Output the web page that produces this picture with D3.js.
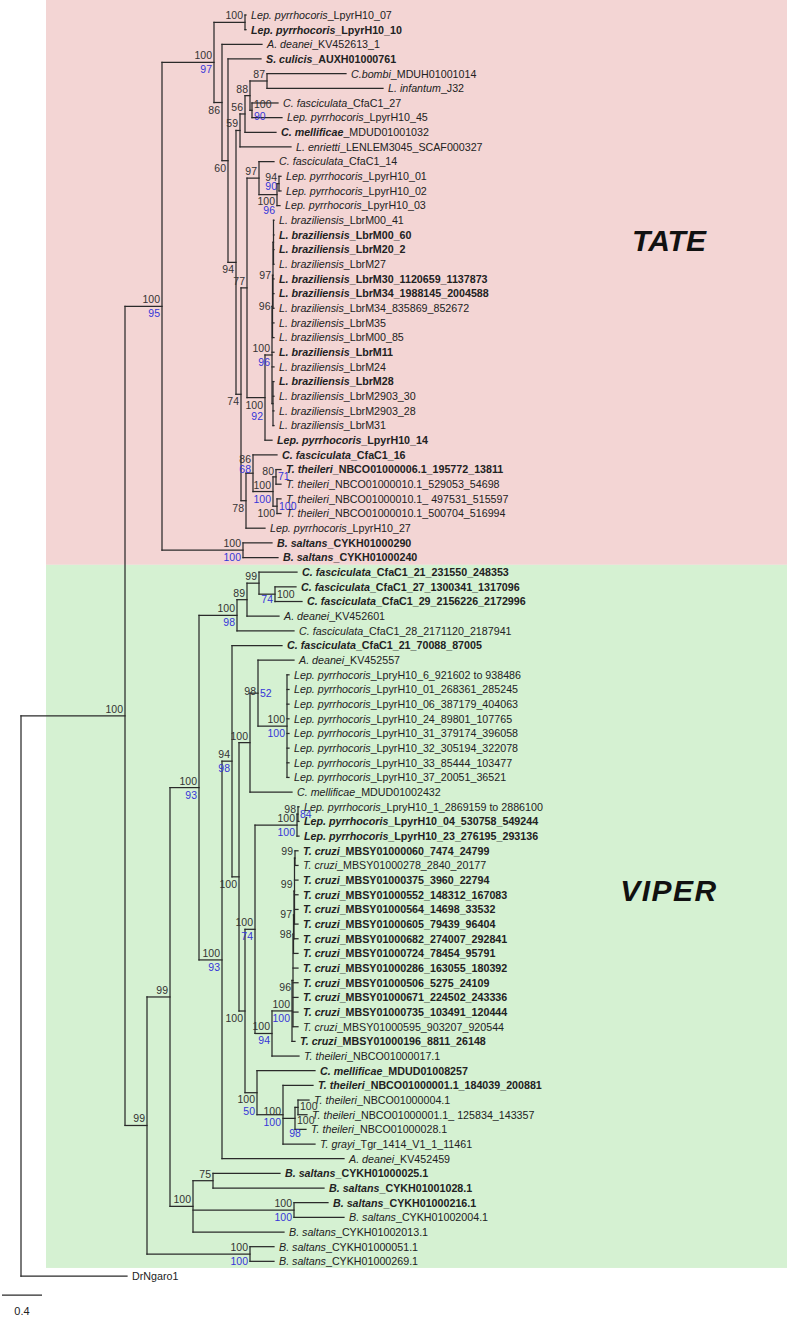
<!DOCTYPE html>
<html><head><meta charset="utf-8">
<script src="https://cdn.jsdelivr.net/npm/d3@7"></script>
<style>body{margin:0;background:#fff}svg{display:block}</style>
</head><body><svg id="c" width="787" height="1317"></svg>
<script>
// ---------------- DATA ----------------
const taxa = [
"Lep. pyrrhocoris_LpyrH10_07","Lep. pyrrhocoris_LpyrH10_10","A. deanei_KV452613_1","S. culicis_AUXH01000761",
"C.bombi_MDUH01001014","L. infantum_J32","C. fasciculata_CfaC1_27","Lep. pyrrhocoris_LpyrH10_45",
"C. mellificae_MDUD01001032","L. enrietti_LENLEM3045_SCAF000327","C. fasciculata_CfaC1_14","Lep. pyrrhocoris_LpyrH10_01",
"Lep. pyrrhocoris_LpyrH10_02","Lep. pyrrhocoris_LpyrH10_03","L. braziliensis_LbrM00_41","L. braziliensis_LbrM00_60",
"L. braziliensis_LbrM20_2","L. braziliensis_LbrM27","L. braziliensis_LbrM30_1120659_1137873","L. braziliensis_LbrM34_1988145_2004588",
"L. braziliensis_LbrM34_835869_852672","L. braziliensis_LbrM35","L. braziliensis_LbrM00_85","L. braziliensis_LbrM11",
"L. braziliensis_LbrM24","L. braziliensis_LbrM28","L. braziliensis_LbrM2903_30","L. braziliensis_LbrM2903_28",
"L. braziliensis_LbrM31","Lep. pyrrhocoris_LpyrH10_14","C. fasciculata_CfaC1_16","T. theileri_NBCO01000006.1_195772_13811",
"T. theileri_NBCO01000010.1_529053_54698","T. theileri_NBCO01000010.1_ 497531_515597","T. theileri_NBCO01000010.1_500704_516994","Lep. pyrrhocoris_LpyrH10_27",
"B. saltans_CYKH01000290","B. saltans_CYKH01000240",
"C. fasciculata_CfaC1_21_231550_248353","C. fasciculata_CfaC1_27_1300341_1317096","C. fasciculata_CfaC1_29_2156226_2172996","A. deanei_KV452601",
"C. fasciculata_CfaC1_28_2171120_2187941","C. fasciculata_CfaC1_21_70088_87005","A. deanei_KV452557","Lep. pyrrhocoris_LpryH10_6_921602 to 938486",
"Lep. pyrrhocoris_LpyrH10_01_268361_285245","Lep. pyrrhocoris_LpyrH10_06_387179_404063","Lep. pyrrhocoris_LpyrH10_24_89801_107765","Lep. pyrrhocoris_LpyrH10_31_379174_396058",
"Lep. pyrrhocoris_LpyrH10_32_305194_322078","Lep. pyrrhocoris_LpyrH10_33_85444_103477","Lep. pyrrhocoris_LpyrH10_37_20051_36521","C. mellificae_MDUD01002432",
"Lep. pyrrhocoris_LpryH10_1_2869159 to 2886100","Lep. pyrrhocoris_LpyrH10_04_530758_549244","Lep. pyrrhocoris_LpyrH10_23_276195_293136","T. cruzi_MBSY01000060_7474_24799",
"T. cruzi_MBSY01000278_2840_20177","T. cruzi_MBSY01000375_3960_22794","T. cruzi_MBSY01000552_148312_167083","T. cruzi_MBSY01000564_14698_33532",
"T. cruzi_MBSY01000605_79439_96404","T. cruzi_MBSY01000682_274007_292841","T. cruzi_MBSY01000724_78454_95791","T. cruzi_MBSY01000286_163055_180392",
"T. cruzi_MBSY01000506_5275_24109","T. cruzi_MBSY01000671_224502_243336","T. cruzi_MBSY01000735_103491_120444","T. cruzi_MBSY01000595_903207_920544",
"T. cruzi_MBSY01000196_8811_26148","T. theileri_NBCO01000017.1","C. mellificae_MDUD01008257","T. theileri_NBCO01000001.1_184039_200881",
"T. theileri_NBCO01000004.1","T. theileri_NBCO01000001.1_ 125834_143357","T. theileri_NBCO01000028.1","T. grayi_Tgr_1414_V1_1_11461",
"A. deanei_KV452459","B. saltans_CYKH01000025.1","B. saltans_CYKH01001028.1","B. saltans_CYKH01000216.1",
"B. saltans_CYKH01002004.1","B. saltans_CYKH01002013.1","B. saltans_CYKH01000051.1","B. saltans_CYKH01000269.1",
"DrNgaro1"
];
// 1-based taxon numbers drawn in bold
const boldTaxa = [2,4,16,17,19,20,24,26,30,31,32,37,38,39,40,41,44,56,57,58,60,61,62,63,64,65,66,67,68,69,71,73,74,80,81,82];
const boldSpeciesOnly = [9];

// Newick pieces (branch lengths in substitutions/site, node labels = bootstrap / second support)
const cladeLeishLike = "((((t5:0.79,t6:1.16)87:0.17,(t7:0.26,t8:0.30)'100/90':0.02)88:0.05,t9:0.31)56:0.05,t10:0.51)59:0.04";
const cladeLbr = "(((((t15:0.005,t16:0.005,t17:0.005,t18:0.005):0.005,t19:0.01,t20:0.01,t21:0.01)97:0.005,t22:0.015,t23:0.015)96:0.005,t24:0.02,t25:0.02,(t26:0.01,t27:0.01,t28:0.01,t29:0.01):0.01)'100/96':0.07,t30:0.07)'100/92':0.18";
const cladeLep = "(t11:0.15,((t12:0.02,t13:0.02)'94/90':0.02,t14:0.03)'100/96':0.18)97:0.12";
const cladeTth = "((t31:0.24,((t32:0.05,t33:0.05)'80/71':0.03,(t34:0.04,t35:0.04)'100/100':0.04)'100/100':0.20)'86/68':0.07,t36:0.19)78:0.05";
const cladeTATE = "(((t1:0.01,t2:0.01)100:0.31,(t3:0.40,(t4:0.33,(" + cladeLeishLike + ",((" + cladeLep + "," + cladeLbr + ")77:0.06," + cladeTth + ")74:0.05)94:0.08)60:0.06)86:0.08)'100/97':0.52,(t37:0.29,t38:0.35)'100/100':0.81)'100/95':0.37";

const cladeCfa = "(((t39:0.38,(t40:0.21,t41:0.27)'100/74':0.16)99:0.12,t42:0.32)89:0.10,t43:0.57)'100/98':0.38";
const cladeLepV = "((t45:0.36,(t46:0.02,t47:0.02,t48:0.02,t49:0.02,t50:0.02,t51:0.02,t52:0.02,t53:0.02)'100/100':0.29)'98/52':0.08,t54:0.42)100:0.11";
const cladeTcr = "((((((t58:0.03,t59:0.03)99:0.005,t60:0.035,t61:0.035,t62:0.035,t63:0.035)99:0.005,t64:0.04)97:0.005,t65:0.045)98:0.005,t66:0.05,t67:0.05,t68:0.05,t69:0.05,t70:0.05)96:0.01,t71:0.03)'100/100':0.20";
const cladeTryp = "((((t55:0.01,t56:0.01)'98/84':0.01,t57:0.02)'100/100':0.42,(" + cladeTcr + ",t72:0.27)'100/94':0.17)'100/74':0.10,(t73:0.58,(t74:0.30,((t75:0.11,t76:0.09)100:0.03,t77:0.11)'100/98':0.12,t78:0.32)'100/100':0.26)'100/50':0.12)100:0.06";
const cladeBsa = "((t80:0.67,t81:1.11)75:0.20,(t82:0.34,t83:0.50)'100/100':1.01,t84:0.91)100:0.23";
const cladeVIPER = "(((" + cladeCfa + ",((t44:0.50,(" + cladeLepV + "," + cladeTryp + ")100:0.07)'94/98':0.10,t79:1.22)'100/93':0.23)'100/93':0.29," + cladeBsa + ")99:0.23,(t85:0.24,t86:0.24)'100/100':1.03)99:0.22";

const treeNewick = "((" + cladeTATE + "," + cladeVIPER + ")100:1.04,t87:1.06);";

const groups = [{name:"TATE", first:1, last:38, color:"#f3d5d4"}, {name:"VIPER", first:39, last:86, color:"#d5f1d2"}];
const scaleBarValue = 0.4;

// ---------------- LAYOUT CONFIG (support-label placement; key = first-last taxon of clade) ----------------
// [side, baseline offset]: side l = left of node, r = right of node, m = centred on node
const labelPlacement = {
  "7-8":   {top:["r",-2],   bot:["r",10]},
  "12-13": {top:["l",-3],   bot:["l",6]},
  "12-14": {top:["l",10],   bot:["l",19]},
  "15-21": {top:["l",3.5]},
  "15-23": {top:["l",3.5]},
  "15-30": {top:["l",11],   bot:["l",22]},
  "31-35": {top:["l",-10],  bot:["l",0]},
  "32-33": {top:["l",-2],   bot:["r",3.5]},
  "34-35": {top:["l",10.5], bot:["r",3.5]},
  "40-41": {top:["r",3.5],  bot:["l",9]},
  "45-53": {top:["l",2],    bot:["r",4]},
  "55-56": {top:["l",-1],   bot:["r",4]},
  "58-64": {top:["l",3.5]},
  "58-65": {top:["l",3.5]},
  "58-70": {top:["l",11]},
  "73-78": {top:["l",10.5], bot:["l",22]},
  "74-78": {top:["l",0],    bot:["l",11]},
  "75-76": {top:["r",3]},
  "75-77": {top:["r",5.5],  bot:["m",19]},
  "80-84": {top:["l",-3]},
  "39-86": {top:["l",-3]}
};

// ---------------- PARSER ----------------
function parseNewick(s){
  let i=0;
  function node(){
    const n={children:[]};
    if(s[i]==='('){ i++; n.children.push(node()); while(s[i]===','){i++; n.children.push(node());} i++; }
    let lab='';
    if(s[i]==="'"){ i++; while(s[i]!=="'") lab+=s[i++]; i++; }
    else { while(i<s.length && !",():;".includes(s[i])) lab+=s[i++]; }
    n.label=lab;
    if(s[i]===':'){ i++; let num=''; while(i<s.length && !",();".includes(s[i])) num+=s[i++]; n.length=+num; } else n.length=0;
    if(!n.children.length) delete n.children;
    return n;
  }
  return node();
}

// ---------------- LAYOUT ----------------
const W=787,H=1317;
const svg=d3.select("#c");
const root=d3.hierarchy(parseNewick(treeNewick), d=>d.children);
root.eachBefore(d=>{ d.dist = (d.parent? d.parent.dist : 0) + (d.parent? d.data.length : 0); });
const maxDist=d3.max(root.leaves(), d=>d.dist);
const x=d3.scaleLinear().domain([0,maxDist]).range([21,21+maxDist*100]);
const y=d3.scaleLinear().domain([0,taxa.length-1]).range([15,1276]);
const step=y(1)-y(0);
root.leaves().forEach(d=>{ d.idx=+d.data.label.slice(1)-1; d.y=y(d.idx); });
root.eachAfter(d=>{ if(d.children){ d.y=(d.children[0].y+d.children[d.children.length-1].y)/2; } });

// backgrounds
const xBgLeft=46;
groups.forEach((g,gi)=>{
  const top = gi===0 ? 0 : y(g.first-1)-step/2;
  const bottom = gi===0 ? y(g.last-1)+step/2 : y(g.last-1)+step*0.45;
  svg.append("rect").attr("x",xBgLeft).attr("y",top).attr("width",W-xBgLeft).attr("height",bottom-top).attr("fill",g.color);
});
const font="Liberation Sans, Arial, sans-serif";
svg.append("text").attr("x",669).attr("y",251).attr("text-anchor","middle")
  .attr("font-family",font).attr("font-size",30).attr("font-weight","bold").attr("font-style","italic").attr("fill","#111").text(groups[0].name);
svg.append("text").attr("x",669).attr("y",901).attr("text-anchor","middle")
  .attr("font-family",font).attr("font-size",30).attr("font-weight","bold").attr("font-style","italic").attr("fill","#111").attr("letter-spacing",1.5).text(groups[1].name);

// branches
const g=svg.append("g").attr("fill","none").attr("stroke","#2a2a2a").attr("stroke-width",1.25).attr("stroke-linecap","square");
root.descendants().forEach(d=>{
  if(d.parent){
    g.append("path").attr("d",`M${x(d.parent.dist)},${d.y}H${x(d.dist)}`);
  }
  if(d.children){
    g.append("path").attr("d",`M${x(d.dist)},${d.children[0].y}V${d.children[d.children.length-1].y}`);
  }
});

// leaf labels
const tl=svg.append("g").attr("font-family",font).attr("font-size",10.7).attr("fill","#222");
root.leaves().forEach(d=>{
  const name=taxa[d.idx];
  const num=d.idx+1;
  const t=tl.append("text").attr("x",x(d.dist)+5).attr("y",d.y).attr("dy","0.36em").attr("xml:space","preserve");
  const k=name.indexOf("_");
  const bold=boldTaxa.includes(num);
  if(k<0){ t.text(name); return; }
  t.append("tspan").attr("font-style","italic").attr("font-weight",(bold||boldSpeciesOnly.includes(num))?"bold":null).text(name.slice(0,k));
  t.append("tspan").attr("font-weight",bold?"bold":null).text(name.slice(k));
});

// support labels
const sl=svg.append("g").attr("font-family",font).attr("font-size",10.5);
function putLabel(d, txt, place, color){
  const [side,dy]=place;
  const nx=x(d.dist);
  sl.append("text")
    .attr("x", side==="r"? nx+2 : side==="m"? nx : nx-2)
    .attr("y", d.y+dy)
    .attr("text-anchor", side==="r"? "start" : side==="m"? "middle" : "end")
    .attr("fill", color).text(txt);
}
root.descendants().forEach(d=>{
  if(!d.children || !d.data.label) return;
  const lv=d.leaves();
  const key=(lv[0].idx+1)+"-"+(lv[lv.length-1].idx+1);
  const ov=labelPlacement[key]||{};
  const parts=d.data.label.split("/");
  if(parts.length===2){
    putLabel(d, parts[0], ov.top||["l",-3], "#333");
    putLabel(d, parts[1], ov.bot||["l",11], "#3535d8");
  } else {
    const first = d.parent && d.parent.children[0]===d;
    putLabel(d, parts[0], ov.top||["l", first? -3 : 11], "#333");
  }
});

// scale bar
const sbLen=x(scaleBarValue)-x(0);
svg.append("path").attr("d",`M2,1295h${sbLen}`).attr("stroke","#2a2a2a").attr("stroke-width",1.25);
svg.append("text").attr("x",2+sbLen/2).attr("y",1315).attr("text-anchor","middle").attr("font-family",font).attr("font-size",11).attr("fill","#222").text(scaleBarValue);
</script></body></html>
